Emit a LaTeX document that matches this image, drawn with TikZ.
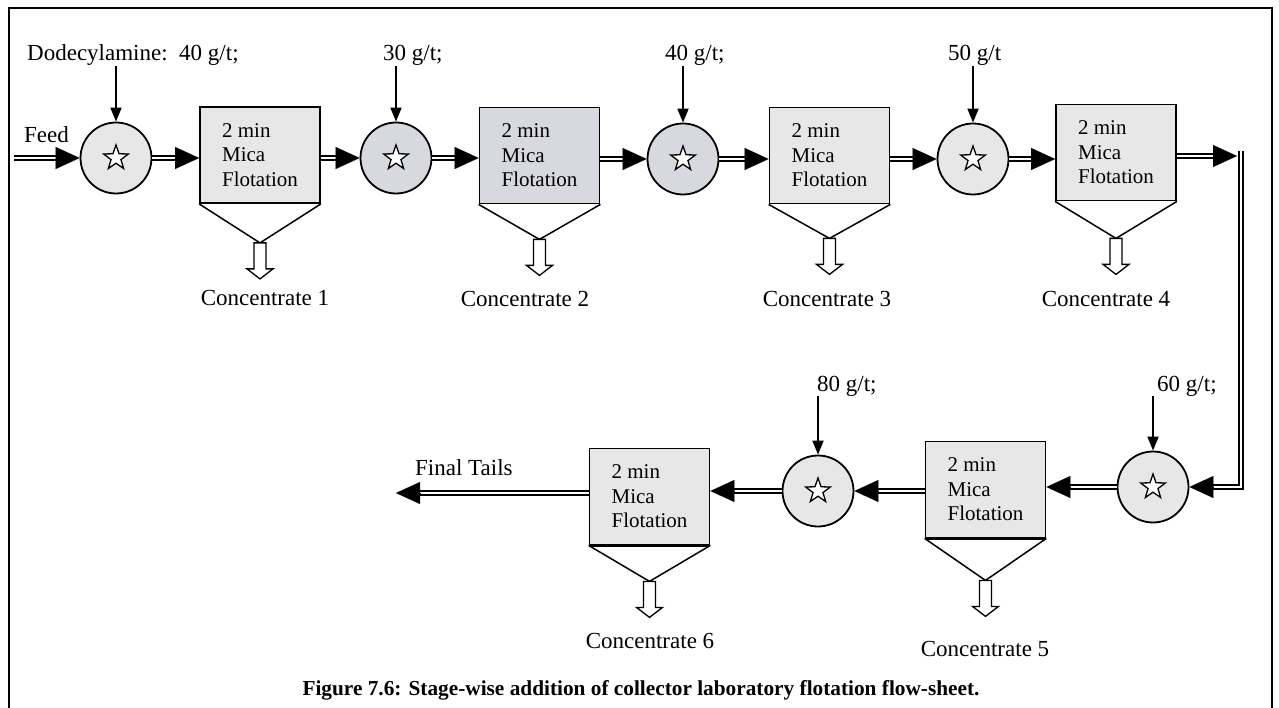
\documentclass[tikz,border=0pt]{standalone}
\usepackage{fontspec}
\setmainfont{Liberation Serif}
\usetikzlibrary{arrows.meta,shapes.geometric,calc}
\definecolor{gran}{HTML}{E7E7E7}
\definecolor{marble}{HTML}{D8D9DE}
\newcommand\flowarrow[2]{%
  \coordinate (faS) at #1; \coordinate (faE) at #2;
  \draw[dbl] (faS) -- (faE);
  \draw[headtip] ($(faE)!24pt!(faS)$) -- (faE);}
\newcommand\hopper[2]{%
  \coordinate (hpA) at ($(#1.south)+(0,#2)$);
  \draw[funnel] (#1.south west) -- (hpA) -- (#1.south east);
  \draw[hollow] (hpA) ++(-6,0) -- ++(0,26) -- ++(-7,0) -- ++(13,10) -- ++(13,-10) -- ++(-7,0) -- ++(0,-26) -- cycle;}
\begin{document}
\begin{tikzpicture}[x=1pt,y=-1pt,
  lab/.style={font=\fontsize{23}{27}\selectfont, inner sep=0pt},
  cell/.style={draw, line width=1.8pt, fill=gran, minimum width=120pt, minimum height=96pt, inner sep=0pt, align=left, font=\fontsize{21}{24.5}\selectfont},
  mix/.style={circle, draw, line width=1.8pt, fill=gran, minimum size=71pt, inner sep=0pt},
  starmark/.style={star, star points=5, star point ratio=2.5, draw, line width=1.3pt, fill=white, minimum size=26pt, inner sep=0pt},
  dbl/.style={double, double distance=2.6pt, line width=1.7pt, shorten >=12pt},
  headtip/.style={line width=0.1pt, -{Triangle[length=24pt,width=22pt]}},
  dose/.style={line width=1.8pt, -{Triangle[length=14pt,width=11pt]}},
  funnel/.style={line width=1.5pt},
  hollow/.style={line width=1.3pt, fill=white, line join=miter},
  frame/.style={line width=2pt}]
\useasboundingbox (0,0) rectangle (1279,708);
\draw[frame] (9,708) -- (9,8) -- (1272,8) -- (1272,708);

% top row
\node[mix] (c1) at (116,158) {};
\node[mix, fill=marble] (c2) at (396,158) {};
\node[mix, fill=marble] (c3) at (683,159) {};
\node[mix] (c4) at (973,159) {};
\foreach \c in {c1,c2,c3,c4} \node[starmark] at (\c) {};

\node[cell] (b1) at (260,155) {2 min\\Mica\\Flotation};
\node[cell, fill=marble] (b2) at (539.5,155.5) {2 min\\Mica\\Flotation};
\node[cell] (b3) at (829.5,155.5) {2 min\\Mica\\Flotation};
\node[cell] (b4) at (1116,152.5) {2 min\\Mica\\Flotation};

% bottom row
\node[mix] (c5) at (1153,487) {};
\node[mix] (c6) at (818,491) {};
\foreach \c in {c5,c6} \node[starmark] at (\c) {};
\node[cell] (b5) at (985.5,489.5) {2 min\\Mica\\Flotation};
\node[cell] (b6) at (649.5,496.5) {2 min\\Mica\\Flotation};
\draw[line width=3pt] (b5.south west) -- (b5.south east);
\draw[line width=3pt] (b6.south west) -- (b6.south east);

% hoppers
\hopper{b1}{39}
\hopper{b2}{35}
\hopper{b3}{34}
\hopper{b4}{37}
\hopper{b5}{42}
\hopper{b6}{36}

% labels
\node[lab, anchor=base west] (feed) at (24,143) {Feed};
\node[lab, anchor=base west] (l1) at (27,61) {Dodecylamine:\ \ 40 g/t;};
\node[lab, anchor=base west] (l2) at (383,61) {30 g/t;};
\node[lab, anchor=base west] (l3) at (665,61) {40 g/t;};
\node[lab, anchor=base west] (l4) at (948,61) {50 g/t};
\node[lab, anchor=base west] (l5) at (1157,391) {60 g/t;};
\node[lab, anchor=base west] (l6) at (817,391) {80 g/t;};
\node[lab, anchor=base west] (tl) at (415,475) {Final Tails};

\node[lab, anchor=base] (k1) at (265,306) {Concentrate 1};
\node[lab, anchor=base] (k2) at (525,307) {Concentrate 2};
\node[lab, anchor=base] (k3) at (827,307) {Concentrate 3};
\node[lab, anchor=base] (k4) at (1106,307) {Concentrate 4};
\node[lab, anchor=base] (k5) at (985,656) {Concentrate 5};
\node[lab, anchor=base] (k6) at (650,648) {Concentrate 6};

\node[font=\bfseries\fontsize{21.3}{25}\selectfont, anchor=base, inner sep=0pt] (cap) at (641,695) {Figure 7.6: Stage-wise addition of collector laboratory flotation flow-sheet.};

% dosing arrows
\draw[dose] (l1.south -| c1.north) -- (c1.north);
\draw[dose] (l2.south -| c2.north) -- (c2.north);
\draw[dose] (l3.south -| c3.north) -- (c3.north);
\draw[dose] (l4.south -| c4.north) -- (c4.north);
\draw[dose] (l5.south -| c5.north) -- (c5.north);
\draw[dose] (l6.south -| c6.north) -- (c6.north);

% main flow
\coordinate (fs) at (14,158);
\flowarrow{(fs)}{(c1.west)}
\flowarrow{(c1.east)}{(c1.east -| b1.west)}
\flowarrow{(b1.east |- c2.west)}{(c2.west)}
\flowarrow{(c2.east)}{(c2.east -| b2.west)}
\flowarrow{(b2.east |- c3.west)}{(c3.west)}
\flowarrow{(c3.east)}{(c3.east -| b3.west)}
\flowarrow{(b3.east |- c4.west)}{(c4.west)}
\flowarrow{(c4.east)}{(c4.east -| b4.west)}
\coordinate (r1) at (1237,156);
\flowarrow{(b4.east |- r1)}{(r1)}
\coordinate (rtop) at (1241,151);
\coordinate (rbot) at (1241,487);
\draw[dbl] (rtop) -- (rbot) -- (c5.east);
\draw[headtip] ($(c5.east)!24pt!(rbot)$) -- (c5.east);
\flowarrow{(c5.west)}{(c5.west -| b5.east)}
\flowarrow{(b5.west |- c6.east)}{(c6.east)}
\flowarrow{(c6.west)}{(c6.west -| b6.east)}
\coordinate (tails) at (396,493);
\flowarrow{(b6.west |- tails)}{(tails)}
\end{tikzpicture}
\end{document}
